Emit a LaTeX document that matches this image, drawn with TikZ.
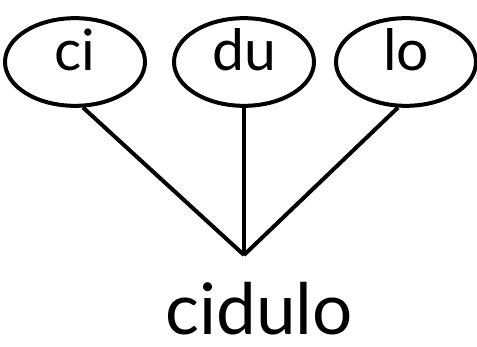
\documentclass[tikz,border=0pt]{standalone}
\usepackage{fontspec}
\setmainfont{Lato}
\usetikzlibrary{shapes.geometric}
\tikzset{
  morph/.style={ellipse, draw, line width=4pt, minimum width=140pt,
                minimum height=84pt, inner sep=0pt, text height=40pt,
                text depth=22pt, font=\fontsize{57}{62}\selectfont},
  branch/.style={line width=4pt},
  word/.style={font=\fontsize{71}{80}\selectfont, inner sep=0pt,
               text depth=0pt, anchor=base},
}
\begin{document}
\begin{tikzpicture}[x=1pt, y=-1pt]
  \useasboundingbox (0,0) rectangle (477,347);

  % --- parts ---
  \node[morph] (ci) at (75,62) {ci};
  \node[morph] (du) at (244,62) {du};
  \node[morph] (lo) at (406,62) {lo};

  % --- joint and whole word ---
  \coordinate (root) at (244,255);
  \node[word] (cidulo) at (259,335) {cidulo};

  \draw[branch] (ci.-80) -- (root);
  \draw[branch] (du.south) -- (root);
  \draw[branch] (lo.-100) -- (root);
\end{tikzpicture}
\end{document}
